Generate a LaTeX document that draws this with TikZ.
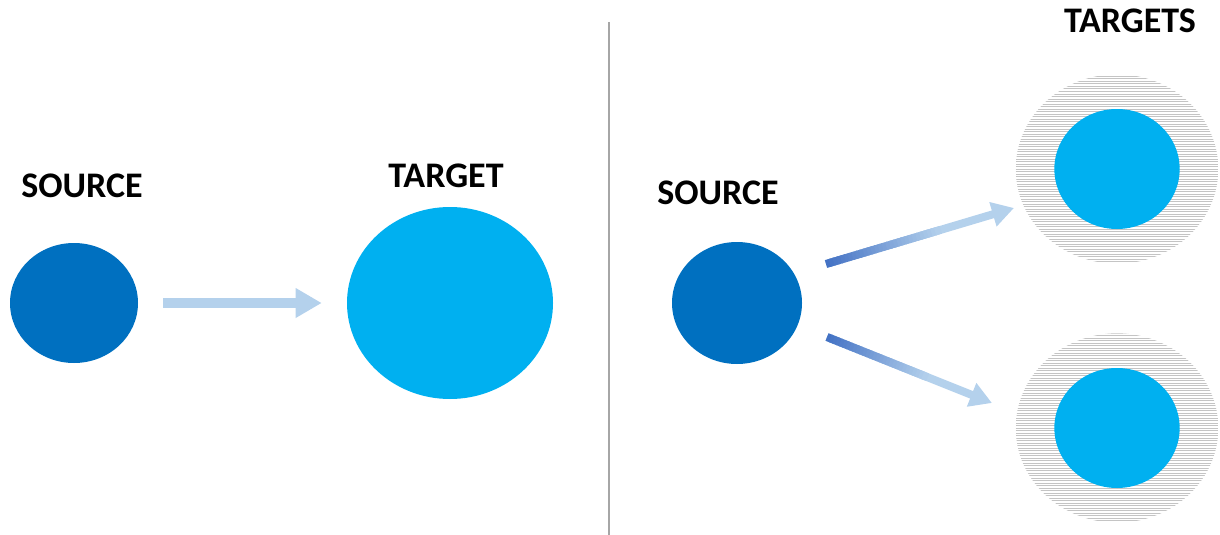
\documentclass[tikz,border=0pt]{standalone}
\usepackage{fontspec}
\setmainfont{Carlito}
\usetikzlibrary{arrows.meta,shapes.geometric,calc}
\definecolor{srcblue}{HTML}{0070C0}
\definecolor{tgtblue}{HTML}{00B0F0}
\definecolor{flowlight}{HTML}{B4D1EC}
\definecolor{flowdark}{HTML}{4472C4}
\definecolor{divider}{HTML}{A6A6A6}
\definecolor{stripe}{HTML}{C4C4C4}
\newcommand\fanarrow[2]{%
	\draw[fanflow] (#1) -- (#2);
	\foreach \k in {0,...,29}{%
		\pgfmathsetmacro\segA{0.6*\k/30}%
		\pgfmathsetmacro\segB{0.6*(\k+1.5)/30}%
		\pgfmathtruncatemacro\pct{100-100*\k/30}%
		\draw[flowdark!\pct!flowlight,line width=6pt] ($(#1)!\segA!(#2)$) -- ($(#1)!\segB!(#2)$);
	}}
\tikzstyle{blob} = [ellipse,inner sep=0pt]
\tikzstyle{source} = [blob,fill=srcblue,minimum width=96pt,minimum height=90pt]
\tikzstyle{target} = [blob,fill=tgtblue,minimum width=94pt,minimum height=90pt]
\tikzstyle{ring} = [blob,minimum width=152pt,minimum height=142pt,path picture={%
	\foreach \k in {-40,...,40}
		\draw[stripe,line width=0.75pt] ([yshift=\k*1.875pt]path picture bounding box.west) -- ([yshift=\k*1.875pt]path picture bounding box.east);}]
\tikzstyle{caption} = [font=\fontsize{27}{30}\selectfont\bfseries]
\tikzstyle{flow} = [draw=flowlight,line width=7.5pt,-{Triangle[width=21pt,length=19.5pt]}]
\tikzstyle{fanflow} = [flow,line width=6pt,-{Triangle[width=18pt,length=16.5pt]}]

\begin{document}
\begin{tikzpicture}[x=0.75pt,y=-0.75pt]
\useasboundingbox (0,0) rectangle (1220,535);

\node[source] (src) at (74,303) {};
\node[target,minimum width=154.5pt,minimum height=144pt] (tgt) at (450,303) {};
\node[caption] (srclabel) at (82,186) {SOURCE};
\node[caption] (tgtlabel) at (446,176) {TARGET};
\draw[flow,shorten <=18.75pt,shorten >=18.75pt] (src) -- (tgt);

\coordinate (divtop) at (609,22);
\coordinate (divbot) at (609,535);
\draw[divider,line width=1.2pt] (divtop) -- (divbot);

\node[source,minimum width=97.5pt,minimum height=91.5pt] (fansrc) at (737,303) {};
\node[caption] (fansrclabel) at (718,193) {SOURCE};
\node[ring] (ringa) at (1117,169) {};
\node[ring] (ringb) at (1117,428) {};
\node[target] (tgta) at (1117,169) {};
\node[target] (tgtb) at (1117,428) {};
\node[caption] (tgtslabel) at (1130,21) {TARGETS};

\coordinate (fa1) at (826,264);
\coordinate (fa2) at (1014,208);
\coordinate (fb1) at (827,337);
\coordinate (fb2) at (992,403);
\fanarrow{fa1}{fa2}
\fanarrow{fb1}{fb2}

\end{tikzpicture}
\end{document}
